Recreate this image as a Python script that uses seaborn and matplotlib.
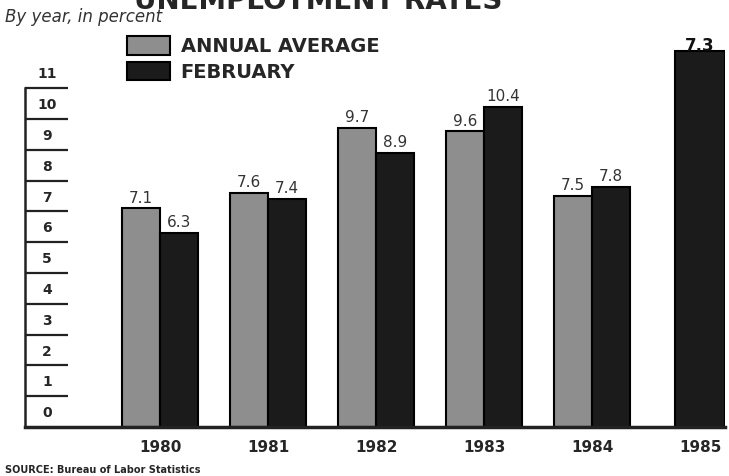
################################################################################
#
#       plot.py
#
#       Description: February vs annual average unemployment rates,
#           1980-1985, redrawn from a scanned newspaper graphic.
#
################################################################################

import pandas as pd
import matplotlib.pyplot as plt
from matplotlib.patches import Patch
import seaborn as sns

################################################################################

years = ['1980', '1981', '1982', '1983', '1984', '1985']
annual_average = [7.1, 7.6, 9.7, 9.6, 7.5]
february = [6.3, 7.4, 8.9, 10.4, 7.8]

# 1985 only has a February bar; the print draws it far taller than its label
feb_1985_label = '7.3'
feb_1985_drawn = 12.2

series_names = ['ANNUAL AVERAGE', 'FEBRUARY']
y_levels = list(range(12))

colors = ['#8e8e8e', '#1b1b1b']

################################################################################

def build_frame() -> pd.core.frame.DataFrame:
    '''
        Long dataframe with one row per year and series for 1980-1984.
    '''

    n = len(annual_average)
    return pd.DataFrame({
        'year': years[:n] * 2,
        'series': [series_names[0]] * n + [series_names[1]] * n,
        'rate': annual_average + february,
    })

################################################################################

df = build_frame()
df_1985 = pd.DataFrame({'year': [years[-1]], 'rate': [feb_1985_drawn]})

sns.set_theme(style = 'ticks')
plt.rcParams['font.family'] = ['DejaVu Sans']

fig = plt.figure(figsize = (7.29, 4.76), dpi = 100)
ax = fig.add_axes([25 / 729, 49 / 476, 700 / 729, 397 / 476])

sns.barplot(data = df, x = 'year', y = 'rate', hue = 'series',
            order = years, hue_order = series_names, palette = colors,
            width = 0.7, edgecolor = 'black', linewidth = 1.5,
            saturation = 1, errorbar = None, legend = False, ax = ax)
sns.barplot(data = df_1985, x = 'year', y = 'rate', order = years,
            color = colors[1], width = 0.46, edgecolor = 'black',
            linewidth = 1.5, saturation = 1, errorbar = None, ax = ax)

# value labels
ax.bar_label(ax.containers[0], labels = [f'{v:.1f}' for v in annual_average],
             padding = 2, fontsize = 11, color = '#333333')
ax.bar_label(ax.containers[1], labels = [f'{v:.1f}' for v in february],
             padding = 2, fontsize = 11, color = '#333333')
ax.bar_label(ax.containers[2], labels = [feb_1985_label], padding = -3,
             fontsize = 12, fontweight = 'bold', color = '#111111')

ax.set_xlim(-1.25, 5.23)
ax.set_ylim(0, 12.89)
ax.set_xlabel('')
ax.set_ylabel('')

# axis lines
ax.spines['top'].set_visible(False)
ax.spines['right'].set_visible(False)
ax.spines['left'].set_bounds(0, 11)
ax.spines['left'].set_linewidth(1.8)
ax.spines['left'].set_color('#222222')
ax.spines['bottom'].set_linewidth(2.5)
ax.spines['bottom'].set_color('#222222')

# long inward tick lines, labels sitting between them
ax.set_yticks(range(1, 12), labels = [])
ax.tick_params(axis = 'y', which = 'major', left = True, direction = 'in',
               length = 31, width = 1.6, color = '#222222')
ax.set_yticks([v + 0.5 for v in y_levels],
              labels = [str(v) for v in y_levels], minor = True)
ax.tick_params(axis = 'y', which = 'minor', length = 0, pad = -16,
               labelsize = 10)
for lab in ax.get_yticklabels(minor = True):
    lab.set_horizontalalignment('center')
    lab.set_fontweight('bold')

ax.tick_params(axis = 'x', length = 0, pad = 9, labelsize = 11)
for lab in ax.get_xticklabels():
    lab.set_fontweight('heavy')

handles = [Patch(facecolor = c, edgecolor = 'black', linewidth = 1.5)
           for c in colors]
ax.legend(handles, series_names, loc = 'upper left',
          bbox_to_anchor = (0.146, 0.985), frameon = False,
          handlelength = 2.2, handleheight = 1.1, handletextpad = 0.55,
          labelspacing = 0.3, borderpad = 0, borderaxespad = 0,
          prop = dict(weight = 'heavy', size = 14))

# titles and source
fig.text(0.436, 1 - 9 / 476, 'UNEMPLOYMENT RATES', ha = 'center',
         va = 'baseline', fontsize = 20, fontweight = 'heavy')
fig.text(5 / 729, 1 - 22 / 476, 'By year, in percent', fontsize = 12,
         style = 'italic', color = '#333333', va = 'baseline')
fig.text(5 / 729, 1 - 473 / 476, 'SOURCE: Bureau of Labor Statistics',
         fontsize = 7, fontweight = 'bold', va = 'baseline')

fig.savefig('out.png', dpi = 100)
